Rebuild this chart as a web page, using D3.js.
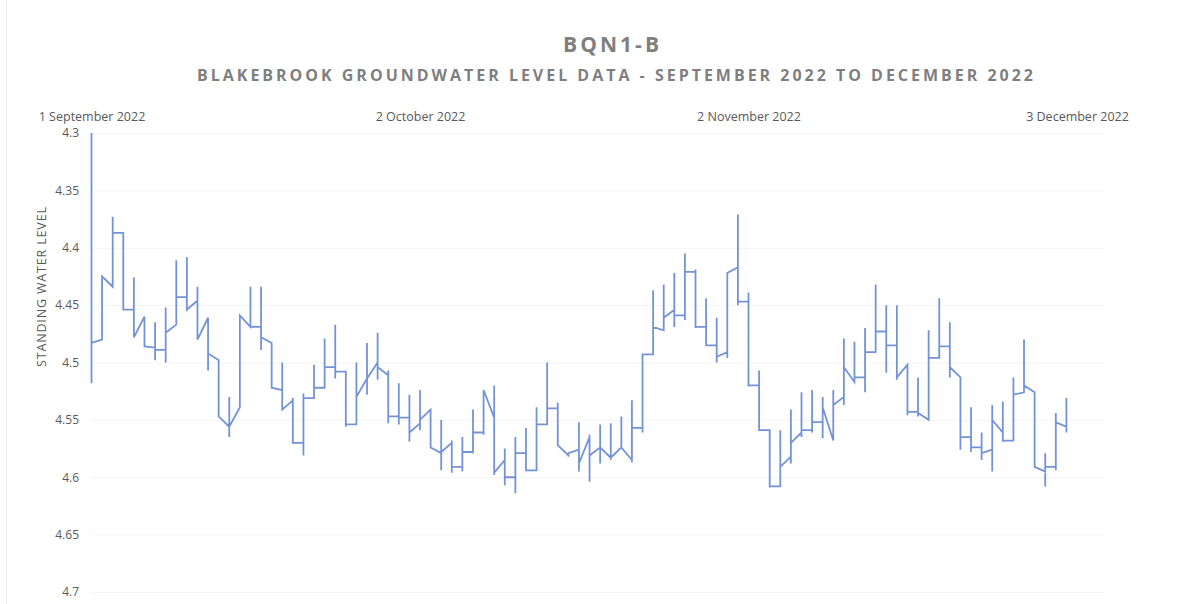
<!DOCTYPE html>
<html>
<head>
<meta charset="utf-8">
<script src="https://cdn.jsdelivr.net/npm/d3@7"></script>
<style>
  body { margin: 0; background: #fff; }
  text { font-family: "Open Sans", "Noto Sans", sans-serif; }
</style>
</head>
<body>
<div id="chart"></div>
<script>
// daily readings (each day drawn as one vertical stroke, like the excel date axis)
var startDate = new Date(2022, 8, 1);
var openLevel = [4.483,4.480,4.434,4.387,4.454,4.460,4.487,4.489,4.467,4.443,
  4.446,4.461,4.498,4.556,4.539,4.469,4.469,4.483,4.524,4.533,
  4.570,4.531,4.522,4.504,4.508,4.554,4.514,4.500,4.511,4.547,
  4.548,4.553,4.541,4.579,4.570,4.591,4.578,4.561,4.548,4.585,
  4.600,4.579,4.594,4.554,4.540,4.581,4.576,4.565,4.574,4.583,
  4.574,4.585,4.557,4.493,4.472,4.454,4.459,4.421,4.469,4.485,
  4.491,4.417,4.447,4.520,4.559,4.608,4.582,4.561,4.559,4.552,
  4.568,4.530,4.517,4.513,4.491,4.473,4.485,4.502,4.543,4.550,
  4.496,4.486,4.513,4.565,4.574,4.576,4.561,4.568,4.526,4.526,
  4.595,4.591,4.556];
var highLevel = [4.300,4.425,4.373,4.387,4.426,4.460,4.465,4.452,4.411,4.408,
  4.434,4.461,4.498,4.530,4.459,4.434,4.434,4.483,4.500,4.531,
  4.527,4.502,4.479,4.467,4.508,4.500,4.483,4.474,4.507,4.518,
  4.528,4.524,4.541,4.550,4.568,4.565,4.541,4.524,4.520,4.575,
  4.565,4.557,4.539,4.500,4.535,4.579,4.552,4.563,4.554,4.553,
  4.547,4.533,4.495,4.437,4.432,4.422,4.405,4.419,4.444,4.461,
  4.422,4.371,4.439,4.507,4.559,4.559,4.541,4.526,4.524,4.530,
  4.524,4.479,4.482,4.470,4.432,4.450,4.450,4.502,4.513,4.472,
  4.444,4.465,4.513,4.539,4.561,4.537,4.534,4.513,4.480,4.526,
  4.579,4.544,4.531];
var lowLevel = [4.518,4.480,4.434,4.454,4.478,4.486,4.498,4.500,4.467,4.454,
  4.480,4.507,4.547,4.565,4.539,4.469,4.489,4.522,4.541,4.570,
  4.581,4.531,4.522,4.514,4.556,4.554,4.528,4.515,4.553,4.554,
  4.569,4.559,4.575,4.594,4.596,4.595,4.579,4.563,4.598,4.607,
  4.614,4.594,4.594,4.554,4.572,4.582,4.595,4.604,4.588,4.585,
  4.575,4.587,4.561,4.493,4.472,4.469,4.463,4.470,4.485,4.500,
  4.496,4.450,4.521,4.559,4.609,4.608,4.588,4.565,4.561,4.566,
  4.568,4.537,4.518,4.526,4.491,4.509,4.515,4.546,4.547,4.550,
  4.496,4.513,4.576,4.578,4.585,4.595,4.569,4.568,4.526,4.591,
  4.608,4.594,4.561];
var closeLevel = [4.483,4.425,4.387,4.454,4.478,4.486,4.489,4.474,4.443,4.454,
  4.480,4.492,4.547,4.556,4.459,4.469,4.478,4.522,4.541,4.570,
  4.531,4.522,4.504,4.508,4.554,4.530,4.514,4.504,4.547,4.548,
  4.561,4.550,4.574,4.578,4.591,4.578,4.561,4.524,4.596,4.600,
  4.579,4.594,4.554,4.540,4.572,4.579,4.588,4.581,4.574,4.583,
  4.574,4.557,4.493,4.469,4.461,4.459,4.421,4.469,4.485,4.495,
  4.422,4.447,4.520,4.559,4.608,4.591,4.570,4.559,4.552,4.539,
  4.537,4.504,4.513,4.491,4.473,4.485,4.513,4.543,4.544,4.496,
  4.486,4.504,4.565,4.574,4.579,4.550,4.568,4.528,4.520,4.591,
  4.591,4.552,4.544];

var yTicks = [4.3, 4.35, 4.4, 4.45, 4.5, 4.55, 4.6, 4.65, 4.7];
var xTicks = [new Date(2022, 8, 1), new Date(2022, 9, 2), new Date(2022, 10, 2), new Date(2022, 11, 3)];

var width = 1194, height = 604;
var svg = d3.select("#chart").append("svg")
    .attr("width", width)
    .attr("height", height);

// faint left edge of the chart frame
svg.append("line")
    .attr("x1", 6.5).attr("x2", 6.5)
    .attr("y1", 0).attr("y2", height)
    .style("stroke", "#ededed");

var x = d3.scaleTime()
    .domain([xTicks[0], xTicks[3]])
    .range([91.5, 1077]);

// reversed axis: 4.3 at the top
var y = d3.scaleLinear()
    .domain([4.3, 4.7])
    .range([133, 592]);

// faint gridlines
svg.append("g")
    .selectAll("line")
    .data(yTicks)
    .enter()
    .append("line")
    .attr("x1", 92).attr("x2", 1105)
    .attr("y1", function(d) { return y(d) + 0.5; })
    .attr("y2", function(d) { return y(d) + 0.5; })
    .style("stroke", "#f4f4f4");

var yAxis = svg.append("g")
    .attr("transform", "translate(92,0)")
    .call(d3.axisLeft(y).tickValues(yTicks).tickSize(0).tickPadding(13).tickFormat(d3.format("")));
yAxis.select(".domain").remove();
yAxis.selectAll("text")
    .style("font-size", "12px")
    .style("fill", "#595959");

var xAxis = svg.append("g")
    .attr("transform", "translate(0,121)")
    .call(d3.axisTop(x).tickValues(xTicks).tickSize(0).tickPadding(0)
        .tickFormat(function(d) { return d3.timeFormat("%-d %B %Y")(d); }));
xAxis.select(".domain").remove();
xAxis.selectAll("text")
    .style("font-size", "12.5px")
    .style("fill", "#595959");

// one point list: each day goes open -> high -> low -> close at the same x
var pts = [];
for (var i = 0; i < openLevel.length; i++) {
    var day = d3.timeDay.offset(startDate, i);
    pts.push([day, openLevel[i]]);
    pts.push([day, highLevel[i]]);
    pts.push([day, lowLevel[i]]);
    pts.push([day, closeLevel[i]]);
}

var line = d3.line()
    .x(function(d) { return x(d[0]); })
    .y(function(d) { return y(d[1]); });

svg.append("path")
    .datum(pts)
    .attr("d", line)
    .style("fill", "none")
    .style("stroke", "#7393d8")
    .style("stroke-width", 1.8)
    .style("stroke-linejoin", "miter");

svg.append("text")
    .attr("x", 611).attr("y", 52)
    .attr("text-anchor", "middle")
    .attr("textLength", 96)
    .attr("lengthAdjust", "spacing")
    .style("font-size", "21px")
    .style("font-weight", "bold")
    .style("fill", "#7f7f7f")
    .text("BQN1-B");

svg.append("text")
    .attr("x", 615).attr("y", 81)
    .attr("text-anchor", "middle")
    .attr("textLength", 836)
    .attr("lengthAdjust", "spacing")
    .style("font-size", "16px")
    .style("font-weight", "bold")
    .style("fill", "#7f7f7f")
    .text("BLAKEBROOK GROUNDWATER LEVEL DATA - SEPTEMBER 2022 TO DECEMBER 2022");

svg.append("text")
    .attr("transform", "translate(46,287) rotate(-90)")
    .attr("text-anchor", "middle")
    .attr("textLength", 160)
    .attr("lengthAdjust", "spacing")
    .style("font-size", "12.5px")
    .style("fill", "#595959")
    .text("STANDING WATER LEVEL");
</script>
</body>
</html>
